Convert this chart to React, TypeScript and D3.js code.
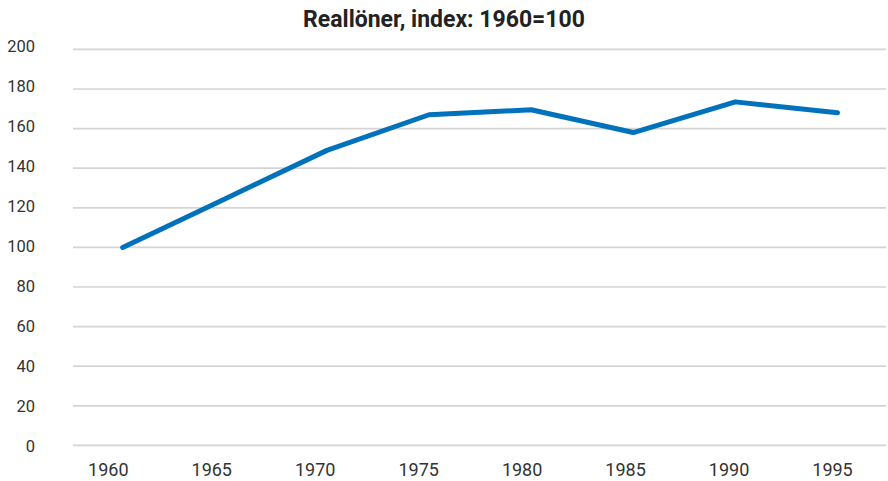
import React from "react";
import * as d3 from "d3";

const years = [1960, 1965, 1970, 1975, 1980, 1985, 1990, 1995];
const realWages = [100, 124.5, 149, 167, 169.5, 158, 173.5, 168];
const yTicks = [0, 20, 40, 60, 80, 100, 120, 140, 160, 180, 200];
const title = "Reallöner, index: 1960=100";

const W = 888;
const H = 481;

export default function App() {
  const y = d3.scaleLinear().domain([0, 200]).range([445.4, 49.4]);
  const yLab = d3.scaleLinear().domain([0, 200]).range([446, 45.8]);
  const xLine = d3.scalePoint<number>().domain(years).range([122.7, 837.5]);
  const xLab = d3.scalePoint<number>().domain(years).range([108.3, 832.5]);

  const line = d3
    .line<number>()
    .x((_, i) => xLine(years[i]) as number)
    .y((d) => y(d));

  const font = "Roboto, 'Noto Sans', sans-serif";

  return (
    <svg
      width={W}
      height={H}
      style={{ position: "absolute", left: 0, top: 0, background: "#fff" }}
    >
      <text
        x={444}
        y={27}
        textAnchor="middle"
        fontFamily={font}
        fontWeight={700}
        fontSize={23}
        fill="#222"
      >
        {title}
      </text>
      {yTicks.map((t) => (
        <g key={t}>
          <line
            x1={73}
            x2={886}
            y1={y(t)}
            y2={y(t)}
            stroke="#d4d4d4"
            strokeWidth={1.7}
          />
          <text
            x={35}
            y={yLab(t)}
            dy="0.36em"
            textAnchor="end"
            fontFamily={font}
            fontSize={16.5}
            fill="#333"
          >
            {t}
          </text>
        </g>
      ))}
      {years.map((yr) => (
        <text
          key={yr}
          x={xLab(yr)}
          y={475.7}
          textAnchor="middle"
          fontFamily={font}
          fontSize={18}
          fill="#333"
        >
          {yr}
        </text>
      ))}
      <path
        d={line(realWages) ?? ""}
        fill="none"
        stroke="#0072BC"
        strokeWidth={5}
        strokeLinejoin="round"
        strokeLinecap="round"
      />
    </svg>
  );
}
